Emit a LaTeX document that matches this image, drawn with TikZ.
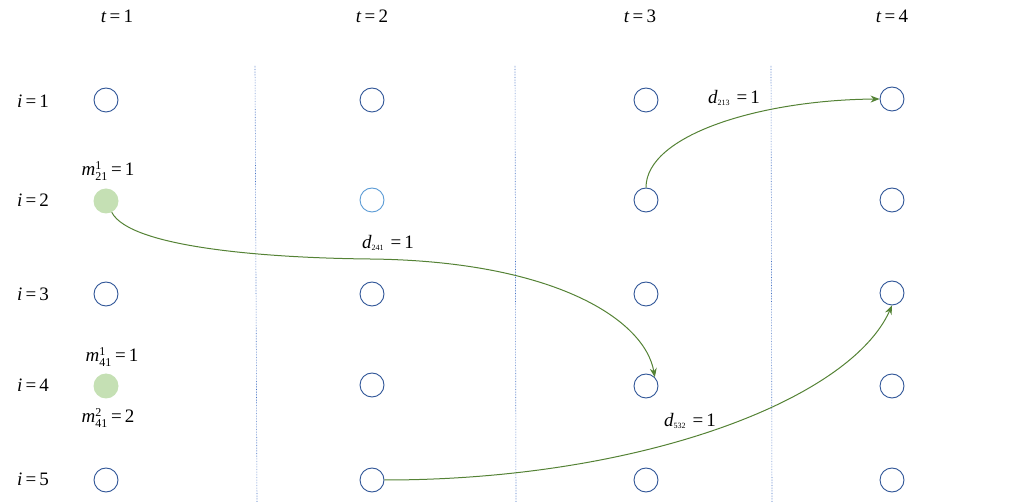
\documentclass[tikz,border=0pt]{standalone}
\usepackage{fontspec}
\setmainfont{Liberation Serif}
\usetikzlibrary{arrows.meta}
\definecolor{nodeblue}{HTML}{2F5597}
\definecolor{lightblue}{HTML}{5B9BD5}
\definecolor{fillgreen}{HTML}{C5E0B4}
\definecolor{arrgreen}{HTML}{548235}
\definecolor{sepblue}{HTML}{4472C4}
\newcommand{\eqv}[1]{\,=\,#1}
\newcommand{\smallidx}[1]{{\fontsize{12}{13}\selectfont #1}}
\newcommand{\tinyidx}[1]{{\fontsize{8}{9}\selectfont #1}}
\newcommand{\mvar}[3]{\textit{m}$^{\mbox{\smallidx{#1}}}_{\mbox{\smallidx{#2}}}$\eqv{#3}}
\newcommand{\dvar}[2]{\textit{d}$_{\mbox{\tinyidx{#1}}}$\,\eqv{#2}}
\tikzset{
  st/.style={circle,draw=nodeblue,line width=0.9pt,minimum size=24pt,inner sep=0pt},
  stlight/.style={circle,draw=lightblue,line width=0.9pt,minimum size=24pt,inner sep=0pt},
  stgreen/.style={circle,fill=fillgreen,minimum size=25pt,inner sep=0pt},
  sep/.style={draw=sepblue,densely dotted,line width=0.6pt},
  flow/.style={draw=arrgreen,line width=1pt,-{Stealth[length=9pt,width=7pt]}},
  lab/.style={font=\fontsize{19}{21}\selectfont,inner sep=0pt}
}
\begin{document}
\begin{tikzpicture}[x=1pt,y=-1pt]
\useasboundingbox (0,0) rectangle (1010,502);
% separators
\coordinate (s1a) at (255,66); \coordinate (s1b) at (257,502);
\coordinate (s2a) at (515,66); \coordinate (s2b) at (516,502);
\coordinate (s3a) at (771,66); \coordinate (s3b) at (772,502);
\draw[sep] (s1a) -- (s1b);
\draw[sep] (s2a) -- (s2b);
\draw[sep] (s3a) -- (s3b);
% headers
\node[lab] (t1) at (117,16) {\textit{t}\eqv{1}};
\node[lab] (t2) at (372,16) {\textit{t}\eqv{2}};
\node[lab] (t3) at (640,16) {\textit{t}\eqv{3}};
\node[lab] (t4) at (892,16) {\textit{t}\eqv{4}};
\node[lab] (i1) at (33,101) {\textit{i}\eqv{1}};
\node[lab] (i2) at (33,200) {\textit{i}\eqv{2}};
\node[lab] (i3) at (33,294) {\textit{i}\eqv{3}};
\node[lab] (i4) at (33,385) {\textit{i}\eqv{4}};
\node[lab] (i5) at (33,479) {\textit{i}\eqv{5}};
% nodes
\node[st] (n11) at (106,100) {};
\node[stgreen] (g2) at (106,201) {};
\node[st] (n13) at (106,294) {};
\node[stgreen] (g4) at (106,386) {};
\node[st] (n15) at (106,480) {};
\node[st] (n21) at (372,100) {};
\node[stlight] (n22) at (372,200) {};
\node[st] (n23) at (372,294) {};
\node[st] (n24) at (372,385) {};
\node[st] (n25) at (372,480) {};
\node[st] (n31) at (646,100) {};
\node[st] (n32) at (646,200) {};
\node[st] (n33) at (646,294) {};
\node[st] (n34) at (646,386) {};
\node[st] (n35) at (646,480) {};
\node[st] (n41) at (892,99) {};
\node[st] (n42) at (892,200) {};
\node[st] (n43) at (892,293) {};
\node[st] (n44) at (892,386) {};
\node[st] (n45) at (892,480) {};
% labels
\node[lab] (m21) at (108,171) {\mvar{1}{21}{1}};
\node[lab] (m41a) at (112,357) {\mvar{1}{41}{1}};
\node[lab] (m41b) at (108,418) {\mvar{2}{41}{2}};
\node[lab] (d241) at (388,243) {\dvar{241}{1}};
\node[lab] (d213) at (734,98) {\dvar{213}{1}};
\node[lab] (d532) at (690,421) {\dvar{532}{1}};
% flows
\coordinate (mid) at (370,259);
\draw[flow] (g2) .. controls (130,248) and (270,258) .. (mid) .. controls (555,261) and (645,320) .. (n34.north east);
\draw[flow] (n32.north) .. controls (646,135) and (760,100) .. (n41.west);
\draw[flow] (n25.east) .. controls (640,480) and (850,400) .. (n43.south);
\end{tikzpicture}
\end{document}
